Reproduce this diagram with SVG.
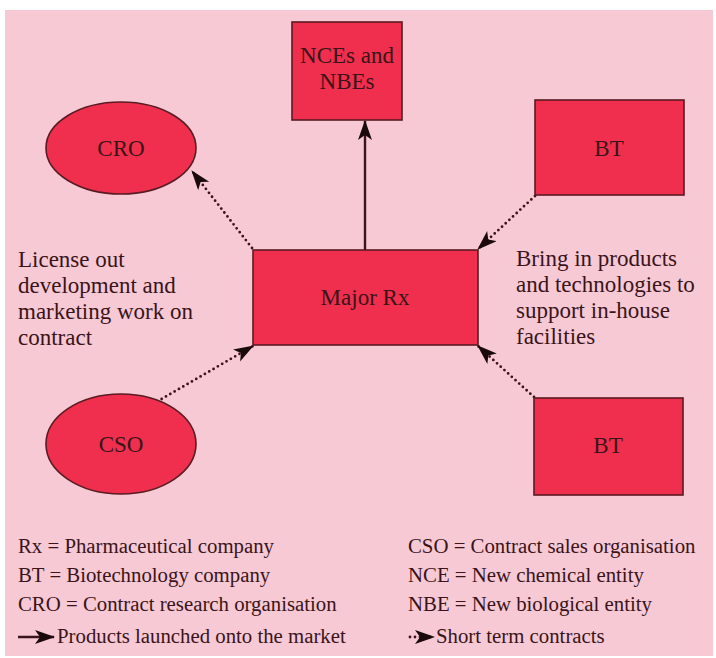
<svg xmlns="http://www.w3.org/2000/svg" width="716" height="658" viewBox="0 0 716 658">
<style>
.bg{fill:#f6c9d5}
.node{fill:#f02f4e;stroke:#5a1b22;stroke-width:1.6}
.t{font-family:"Liberation Serif","Times New Roman",serif;fill:#3a1418}
.nl{font-size:23px;text-anchor:middle}
.side{font-size:23px}
.leg{font-size:20.8px}
.solid{stroke:#3a1418;stroke-width:2.4;fill:none}
.dot{stroke:#3a1418;stroke-width:2.8;fill:none;stroke-dasharray:0 5;stroke-linecap:round}
</style>
<defs>
<marker id="ah" markerUnits="userSpaceOnUse" markerWidth="22" markerHeight="16" refX="19" refY="7" orient="auto">
<path d="M0,0 L20,7 L0,14 L5,7 Z" fill="#1a0a0c"/>
</marker>
</defs>
<rect class="bg" x="5" y="10" width="708" height="646"/>
<g id="connectors">
<line class="solid" x1="365" y1="250" x2="365" y2="121" marker-end="url(#ah)"/>
<line class="dot" x1="252" y1="248" x2="192" y2="171" marker-end="url(#ah)"/>
<line class="dot" x1="535" y1="196" x2="478" y2="249" marker-end="url(#ah)"/>
<line class="dot" x1="153" y1="404" x2="253" y2="346" marker-end="url(#ah)"/>
<line class="dot" x1="534" y1="397" x2="478" y2="346" marker-end="url(#ah)"/>
</g>
<g id="nces">
<rect class="node" x="292" y="22" width="110" height="98"/>
<text class="t nl" x="347" y="63">NCEs and</text>
<text class="t nl" x="347" y="89">NBEs</text>
</g>
<g id="cro">
<ellipse class="node" cx="121" cy="148" rx="75" ry="46"/>
<text class="t nl" x="121" y="156">CRO</text>
</g>
<g id="bt-top">
<rect class="node" x="535" y="100" width="149" height="95"/>
<text class="t nl" x="609" y="156">BT</text>
</g>
<g id="major-rx">
<rect class="node" x="253" y="250" width="225" height="95"/>
<text class="t nl" x="365" y="305">Major Rx</text>
</g>
<g id="cso">
<ellipse class="node" cx="121" cy="444" rx="75" ry="50"/>
<text class="t nl" x="121" y="452">CSO</text>
</g>
<g id="bt-bottom">
<rect class="node" x="534" y="398" width="149" height="97"/>
<text class="t nl" x="608" y="453">BT</text>
</g>
<g id="left-note" class="t side">
<text x="18" y="267">License out</text>
<text x="18" y="293">development and</text>
<text x="18" y="319">marketing work on</text>
<text x="18" y="345">contract</text>
</g>
<g id="right-note" class="t side">
<text x="516" y="266">Bring in products</text>
<text x="516" y="292">and technologies to</text>
<text x="516" y="318">support in-house</text>
<text x="516" y="344">facilities</text>
</g>
<g id="legend" class="t leg">
<text x="18" y="553">Rx = Pharmaceutical company</text>
<text x="18" y="582">BT = Biotechnology company</text>
<text x="18" y="611">CRO = Contract research organisation</text>
<text x="408" y="553">CSO = Contract sales organisation</text>
<text x="408" y="582">NCE = New chemical entity</text>
<text x="408" y="611">NBE = New biological entity</text>
<text x="57" y="643">Products launched onto the market</text>
<text x="436" y="643">Short term contracts</text>
</g>
<g id="legend-arrows">
<line class="solid" x1="18" y1="637" x2="54" y2="637" marker-end="url(#ah)"/>
<line class="dot" x1="410" y1="637" x2="434" y2="637" marker-end="url(#ah)"/>
</g>
</svg>
